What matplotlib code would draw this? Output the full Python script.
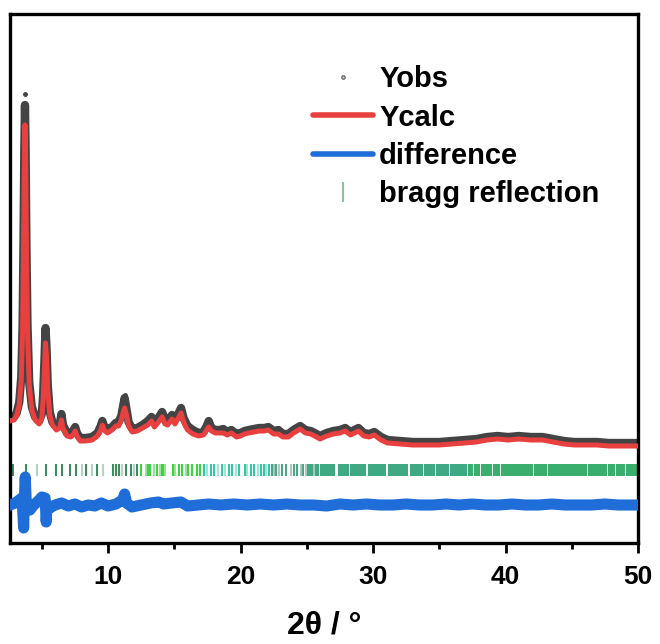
import numpy as np
import matplotlib
matplotlib.use("Agg")
import matplotlib.pyplot as plt
from matplotlib.lines import Line2D
from matplotlib.ticker import MultipleLocator

plt.rcParams['font.family'] = ['Liberation Sans', 'DejaVu Sans']
plt.rcParams['font.weight'] = 'bold'

# ---- refinement data (2theta in degrees, intensity in counts) ----
two_theta = [2.6, 2.9, 3.1, 3.3, 3.45, 3.55, 3.62, 3.68, 3.73, 3.78, 3.84, 3.92,
             4.05, 4.25, 4.5, 4.8, 5.0, 5.1, 5.2, 5.28, 5.35, 5.45, 5.6, 5.8,
             6.1, 6.35, 6.48, 6.6, 6.9, 7.2, 7.4, 7.52, 7.65, 7.9, 8.3, 8.8,
             9.2, 9.45, 9.57, 9.7, 9.95, 10.3, 10.58, 10.8, 11.0, 11.15, 11.25, 11.38,
             11.55, 11.83, 12.2, 12.6, 13.0, 13.28, 13.5, 13.75, 14.08, 14.3, 14.5, 14.83,
             15.05, 15.3, 15.51, 15.7, 16.0, 16.4, 16.84, 17.2, 17.45, 17.6, 17.8, 18.1,
             18.4, 18.7, 19.0, 19.3, 19.7, 20.0, 20.3, 20.6, 21.0, 21.4, 21.8, 22.1,
             22.5, 22.86, 23.2, 23.6, 24.0, 24.5, 24.9, 25.3, 25.6, 26.0, 26.5, 27.0,
             27.5, 27.9, 28.3, 28.6, 28.9, 29.3, 29.7, 30.1, 30.6, 31.1, 32.0, 33.0,
             34.0, 35.0, 36.0, 36.9, 37.8, 38.6, 39.4, 40.2, 41.0, 41.9, 42.8, 43.6,
             44.4, 45.2, 46.0, 46.9, 47.8, 48.6, 49.3, 50.0]

y_obs = [1600, 1650, 1850, 2400, 3650, 6250, 10500, 15000, 17250, 15000, 10250, 6250,
         3400, 2150, 1650, 1450, 1800, 2750, 4500, 6100, 5250, 3250, 1900, 1400,
         1150, 1250, 1800, 1250, 850, 800, 1000, 1150, 850, 600, 600, 650,
         850, 1200, 1450, 1200, 1000, 1150, 1350, 1400, 1700, 2250, 2600, 2100,
         1400, 1050, 1100, 1250, 1450, 1650, 1350, 1550, 1900, 1500, 1450, 1750,
         1500, 1800, 2100, 1600, 1200, 1000, 850, 900, 1200, 1450, 1100, 1000,
         1000, 1050, 900, 1000, 800, 850, 950, 1000, 1050, 1100, 1100, 1150,
         950, 1000, 800, 800, 1000, 1200, 1000, 950, 850, 700, 850, 950,
         1000, 1100, 900, 1000, 1100, 850, 800, 900, 650, 500, 450, 400,
         400, 400, 450, 500, 550, 650, 700, 650, 700, 650, 650, 550,
         450, 400, 400, 400, 350, 350, 350, 350]

y_calc = [1450, 1500, 1700, 2250, 3500, 6000, 10000, 14000, 16250, 14500, 10000, 6000,
          3250, 2000, 1500, 1300, 1600, 2500, 4000, 5350, 4750, 3000, 1750, 1250,
          1000, 1100, 1500, 1100, 700, 650, 800, 950, 700, 450, 450, 500,
          700, 1000, 1250, 1000, 850, 1000, 1200, 1200, 1500, 1900, 2100, 1800,
          1200, 900, 950, 1100, 1250, 1450, 1150, 1350, 1650, 1300, 1250, 1550,
          1300, 1600, 1850, 1400, 1000, 800, 700, 750, 1000, 1150, 950, 850,
          850, 850, 750, 850, 650, 700, 800, 850, 900, 950, 950, 1000,
          800, 800, 650, 650, 850, 1050, 850, 800, 700, 550, 700, 800,
          850, 950, 750, 850, 950, 700, 650, 750, 500, 350, 300, 250,
          250, 250, 300, 350, 400, 500, 550, 500, 550, 500, 500, 400,
          300, 250, 250, 250, 200, 200, 200, 200]

# stray observed points above the profile
spike_theta = [3.73, 11.25]
spike_obs = [17800, 2750]

diff_theta = [2.6, 3.0, 3.3, 3.5, 3.58, 3.63, 3.68, 3.75, 3.82, 3.9, 4.1, 4.4,
              4.8, 5.0, 5.15, 5.25, 5.33, 5.4, 5.6, 6.0, 6.5, 7.0, 7.5, 8.0,
              8.5, 9.0, 9.5, 10.0, 10.6, 11.1, 11.25, 11.4, 11.8, 12.5, 13.2, 13.8,
              14.2, 14.8, 15.5, 16.0, 16.8, 17.6, 18.5, 19.5, 20.5, 21.5, 22.5, 23.5,
              24.5, 25.5, 26.5, 27.5, 28.5, 29.5, 30.5, 31.5, 32.5, 33.5, 34.5, 35.5,
              36.5, 37.5, 38.5, 39.5, 40.5, 41.5, 42.5, 43.5, 44.5, 45.5, 46.5, 47.5,
              48.5, 49.5, 50.0]
y_diff = [0, 100, 250, 350, -500, -1150, 250, 1400, 250, -50, -250, 0,
          250, 400, 250, 350, -850, 0, -150, 0, 100, -50, 50, -100,
          0, -50, 100, -50, 50, 250, 550, 100, -100, 0, 100, 150,
          50, 100, 150, -50, 0, 50, 0, 50, 0, 50, 0, 50,
          0, 0, -50, 50, 0, 50, 0, 0, 50, 0, 0, 50,
          0, 50, 0, 0, 50, 0, 0, 50, 0, 0, 0, 50,
          0, 0, 0]
diff_offset = -2750

# Bragg reflection positions, grouped by marker colour
bragg_dark = [2.8, 3.8, 5.35, 6.06, 6.56, 7.14, 7.57, 8.37, 9.2, 10.4, 10.58, 10.83,
              11.33, 11.7, 12.2]
bragg_pale = [4.63, 8.02, 8.82, 9.62, 11.08, 11.95]
bragg_lime = [12.46, 13.03, 13.2, 13.7, 14.04, 14.15, 14.91, 15.36, 15.56, 16.06,
              16.32, 16.74, 16.92]
bragg_lime_pale = [12.83, 13.46, 14.29, 13.93, 15.06, 15.86]
bragg_teal = [17.25, 17.75, 18.0, 18.58, 19.13, 19.38, 19.89, 20.34, 20.77, 21.02,
              21.52, 21.77, 22.15]
bragg_teal_pale = [17.45, 18.33, 18.83, 19.64, 20.52, 21.35, 21.95]
bragg_sage = [22.35, 22.7, 23.16, 23.41, 24.04, 24.29, 24.72, 25.12, 25.37, 25.8]
bragg_sage_pale = [22.53, 22.91, 23.79, 24.54, 24.92, 25.55]
bragg_mixed = [25.20, 25.32, 25.72, 25.85, 26.10, 26.24, 26.38, 26.52, 26.66, 26.80,
               26.94, 27.05, 27.42, 27.56, 27.70, 27.84, 27.98, 28.12, 28.32, 28.46,
               28.60, 28.74, 28.88, 29.02, 29.16, 29.30, 29.42, 29.70, 29.84, 29.98,
               30.12, 30.32, 30.46, 30.60, 30.74, 30.88, 31.20, 31.34, 31.48, 31.62,
               31.76, 31.90, 32.04, 32.18, 32.32, 32.46, 32.60, 32.84, 32.98, 33.12,
               33.26, 33.40, 33.54, 33.68, 33.90, 34.04, 34.18, 34.32, 34.46, 34.60,
               34.82, 34.96, 35.10, 35.24, 35.38, 35.52, 35.66, 35.90, 36.04, 36.18,
               36.32, 36.46, 36.60, 36.74, 36.88, 37.02]
bragg_sea = [37.22, 37.36, 37.50, 37.72, 37.86, 38.00, 38.20, 38.34, 38.48, 38.62,
             38.76, 38.90, 39.10, 39.24, 39.38, 39.52, 39.70, 39.84, 39.98, 40.12,
             40.26, 40.40, 40.60, 40.74, 40.88, 41.02, 41.16, 41.30, 41.44, 41.60,
             41.74, 41.88, 42.02, 42.25, 42.39, 42.53, 42.67, 42.81, 42.95, 43.05,
             43.25, 43.39, 43.53, 43.67, 43.81, 43.95, 44.09, 44.23, 44.37, 44.51,
             44.65, 44.79, 44.93, 45.07, 45.21, 45.35, 45.49, 45.63, 45.77, 45.91,
             46.05, 46.30, 46.44, 46.58, 46.72, 46.86, 47.00, 47.15, 47.29, 47.43,
             47.57, 47.80, 47.94, 48.08, 48.22, 48.40, 48.54, 48.68, 48.82, 48.96,
             49.20, 49.34, 49.48, 49.62, 49.76, 49.90]
bragg_bottom, bragg_top = -1300, -700

bragg_groups = [
    (bragg_pale, '#b3d4c2'), (bragg_dark, '#3f8d5f'),
    (bragg_lime_pale, '#98e49a'), (bragg_lime, '#3fd140'),
    (bragg_teal_pale, '#a3e3d4'), (bragg_teal, '#35c6a4'),
    (bragg_sage_pale, '#a8cbbd'), (bragg_sage, '#4fa386'),
    (bragg_mixed, '#3fa983'), (bragg_sea, '#3aae6c'),
]

# ---- figure ----
fig = plt.figure(figsize=(6.6, 6.44), dpi=100)
ax = fig.add_axes([10 / 660, 1 - 543 / 644, 628 / 660, 529 / 644])

ax.plot(two_theta, y_obs, color='#444444', lw=6, solid_joinstyle='round', zorder=2)
ax.plot(spike_theta, spike_obs, 'o', ms=2.5, color='#444444', zorder=2)
ax.plot(two_theta, y_calc, color='#e8403f', lw=3.6, solid_joinstyle='round', zorder=3)
ax.plot(diff_theta, np.array(y_diff) + diff_offset, color='#1f6dd8', lw=8,
        solid_joinstyle='round', zorder=3)
for pos, col in bragg_groups:
    ax.vlines(pos, bragg_bottom, bragg_top, colors=col, lw=1.5, zorder=1)

ax.set_xlim(2.6, 50)
ax.set_ylim(-4650, 21800)
ax.set_yticks([])
ax.xaxis.set_major_locator(MultipleLocator(10))
ax.xaxis.set_minor_locator(MultipleLocator(5))
ax.tick_params(axis='x', which='major', direction='out', length=7, width=2,
               labelsize=19, pad=9)
ax.tick_params(axis='x', which='minor', direction='out', length=4, width=2)
for sp in ax.spines.values():
    sp.set_linewidth(2.4)
ax.set_xlabel('2θ / °', fontsize=23, fontweight='bold', labelpad=15)

handles = [
    Line2D([], [], ls='none', marker='o', ms=2.5, mfc='#cccccc', mec='#555555', mew=0.8),
    Line2D([], [], color='#e8403f', lw=4, solid_capstyle='round'),
    Line2D([], [], color='#1f6dd8', lw=4, solid_capstyle='round'),
    Line2D([], [], ls='none', marker='|', ms=15, mew=1.2, color='#6db796'),
]
labels = ['Yobs', 'Ycalc', 'difference', 'bragg reflection']
ax.legend(handles, labels, loc='upper left', bbox_to_anchor=(0.4825, 0.903),
          frameon=False, handlelength=2.07, handletextpad=0.2,
          labelspacing=0.35, borderpad=0, borderaxespad=0,
          prop={'weight': 'bold', 'size': 21})

fig.savefig('out.png', dpi=100)
